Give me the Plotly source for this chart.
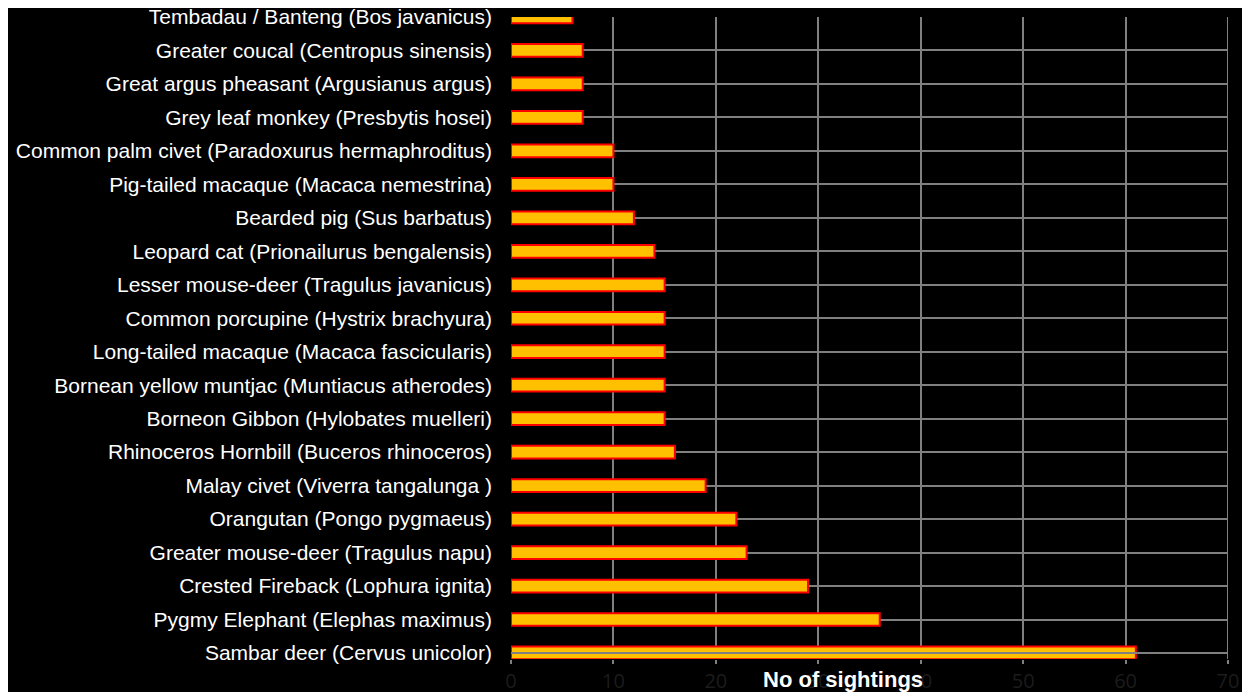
import plotly.graph_objects as go

# ── Data (bottom to top, as drawn) ──────────────────────────────────

species = [
    "Sambar deer (Cervus unicolor)",
    "Pygmy Elephant (Elephas maximus)",
    "Crested Fireback (Lophura ignita)",
    "Greater mouse-deer (Tragulus napu)",
    "Orangutan (Pongo pygmaeus)",
    "Malay civet (Viverra tangalunga )",
    "Rhinoceros Hornbill (Buceros rhinoceros)",
    "Borneon Gibbon (Hylobates muelleri)",
    "Bornean yellow muntjac (Muntiacus atherodes)",
    "Long-tailed macaque (Macaca fascicularis)",
    "Common porcupine (Hystrix brachyura)",
    "Lesser mouse-deer (Tragulus javanicus)",
    "Leopard cat (Prionailurus bengalensis)",
    "Bearded pig (Sus barbatus)",
    "Pig-tailed macaque (Macaca nemestrina)",
    "Common palm civet (Paradoxurus hermaphroditus)",
    "Grey leaf monkey (Presbytis hosei)",
    "Great argus pheasant (Argusianus argus)",
    "Greater coucal (Centropus sinensis)",
    "Tembadau / Banteng (Bos javanicus)",
]
sightings = [61, 36, 29, 23, 22, 19, 16, 15, 15, 15, 15, 15, 14, 12, 10, 10, 7, 7, 7, 6]

x_ticks = [0, 10, 20, 30, 40, 50, 60, 70]

GRID = "#808080"

fig = go.Figure()
fig.add_trace(go.Bar(
    x=sightings,
    y=species,
    orientation="h",
    width=0.38,
    marker=dict(color="#FFC000", line=dict(color="#FF0000", width=2)),
    hovertemplate="%{y}: %{x}<extra></extra>",
))

# axis line drawn over the bottom bar, as in the original
fig.add_hline(y=species[0], line=dict(color=GRID, width=2), layer="above")
# right border of plot area
fig.add_vline(x=70, line=dict(color=GRID, width=2))

# page body has an 8px margin, so the figure is sized to fit inside it
fig.update_layout(
    width=1234,
    height=684,
    paper_bgcolor="#000000",
    plot_bgcolor="#000000",
    margin=dict(l=503, r=14, t=9, b=33, autoexpand=False),
    showlegend=False,
    font=dict(family="Liberation Sans, Arial, sans-serif", color="#FFFFFF"),
    xaxis=dict(
        range=[0, 70],
        tickvals=x_ticks,
        tickfont=dict(family="Open Sans, sans-serif", size=20, color="#1C1C1C"),
        showgrid=True,
        gridcolor=GRID,
        gridwidth=2,
        zeroline=False,
        showline=False,
        ticks="outside",
        ticklen=4,
        tickwidth=2,
        tickcolor=GRID,
        ticklabelstandoff=0,
        automargin=False,
        fixedrange=True,
    ),
    yaxis=dict(
        type="category",
        range=[-0.18, 19],
        tickfont=dict(size=21, color="#FFFFFF"),
        showgrid=True,
        gridcolor=GRID,
        gridwidth=2,
        ticks="",
        ticklabelstandoff=18,
        showline=False,
        automargin=False,
        fixedrange=True,
    ),
    annotations=[dict(
        text="<b>No of sightings</b>",
        xref="paper", yref="paper",
        x=0.463, y=-0.032,
        xanchor="center", yanchor="middle",
        showarrow=False,
        font=dict(size=22, color="#FFFFFF", family="Liberation Sans, Arial, sans-serif"),
    )],
)

fig.write_html("out.html")
